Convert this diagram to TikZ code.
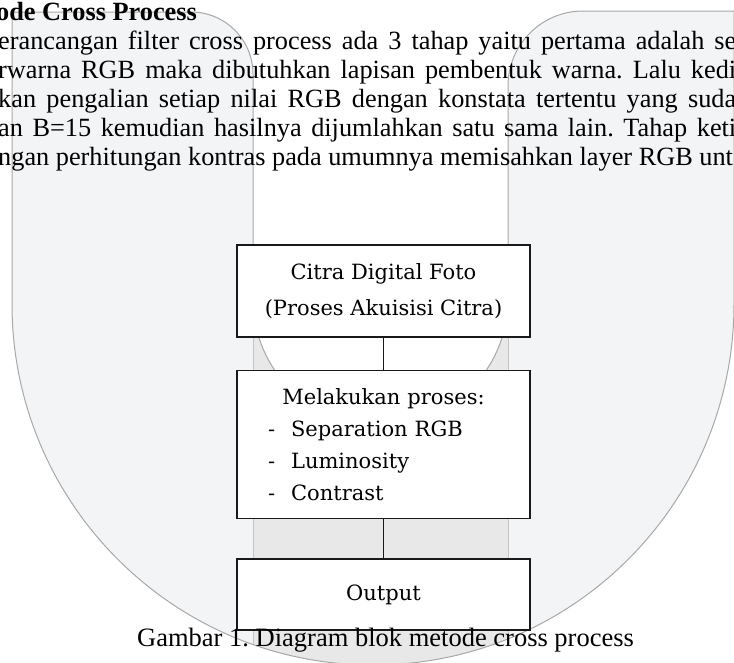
\documentclass[tikz,border=0pt]{standalone}
\usepackage{fontspec}
\setmainfont{Liberation Serif}
\newfontfamily\blokfont{DejaVu Serif}
\usetikzlibrary{positioning}
\definecolor{bgfill}{HTML}{F3F4F6}
\definecolor{bgband}{HTML}{E8E8E8}
\definecolor{bgline}{HTML}{A8A8A8}
\definecolor{bandline}{HTML}{C4C4C4}
\frenchspacing
\tikzset{
	blok/.style       = {shape=rectangle, draw=black!90, line width=1.5pt,
		fill=white, minimum width=293pt, inner sep=0pt, align=center,
		font=\blokfont\fontsize{21}{36}\selectfont},
	prosesblok/.style = {blok, align=left, text width=231pt,
		font=\blokfont\fontsize{21}{32}\selectfont},
	baris/.style      = {anchor=base west, inner sep=0pt,
		font=\fontsize{26.3}{29}\selectfont},
	link/.style       = {draw=black!90, line width=1.5pt}
}

\begin{document}
\begin{tikzpicture}
[
x = 1pt,
y = -1pt
]
\useasboundingbox (0,0) rectangle (734,662);
\fill[bgfill] (12,12) -- (191,12) arc[start angle=-90, end angle=0, radius=62]
	-- (253,299) arc[start angle=180, end angle=0, radius=127.5]
	-- (508,86) arc[start angle=180, end angle=270, radius=75]
	-- (734,11) -- (734,304) arc[start angle=0, end angle=180, radius=361]
	-- cycle;
\begin{scope}
	\clip (373,304) circle[radius=361];
	\fill[bgband] (253,299) arc[start angle=180, end angle=0, radius=127.5]
		-- (508,700) -- (253,700) -- cycle;
	\draw[bandline, line width=1pt] (253,299) -- (253,700) (508,299) -- (508,700);
\end{scope}
\draw[bgline, line width=1pt] (12,12) -- (191,12) arc[start angle=-90, end angle=0, radius=62]
	-- (253,299) arc[start angle=180, end angle=0, radius=127.5]
	-- (508,86) arc[start angle=180, end angle=270, radius=75]
	-- (734,11) -- (734,304) arc[start angle=0, end angle=180, radius=361]
	-- cycle;

\node [baris, font=\bfseries\fontsize{26.3}{29}\selectfont] (judul) at (-4,20) {ode Cross Process};
\node [baris] (baris1) at (-2,49) {\makebox[738pt][s]{erancangan filter cross process ada 3 tahap yaitu pertama adalah se}};
\node [baris] (baris2) at (-2,78) {\makebox[738pt][s]{rwarna RGB maka dibutuhkan lapisan pembentuk warna. Lalu kedi}};
\node [baris] (baris3) at (-2,107) {\makebox[738pt][s]{kan pengalian setiap nilai RGB dengan konstata tertentu yang suda}};
\node [baris] (baris4) at (-2,136) {\makebox[738pt][s]{an B=15 kemudian hasilnya dijumlahkan satu sama lain. Tahap keti}};
\node [baris] (baris5) at (-2,165) {ngan perhitungan kontras pada umumnya memisahkan layer RGB unt};

\node [blok, minimum height=92pt] (citra) at (383.5,291) {Citra Digital Foto\\(Proses Akuisisi Citra)};
\node [prosesblok, minimum height=148pt, below=32pt of citra] (proses)
	{\makebox[231pt][c]{Melakukan proses:}\\
	-\hspace{16pt}Separation RGB\\
	-\hspace{16pt}Luminosity\\
	-\hspace{16pt}Contrast};
\node [blok, minimum height=71pt, below=39pt of proses] (output) {Output};

\draw [link] (citra) -- (proses);
\draw [link] (proses) -- (output);

\node [baris, font=\fontsize{26.5}{30}\selectfont] (gambar) at (137,646) {Gambar 1. Diagram blok metode cross process};
\end{tikzpicture}
\end{document}
